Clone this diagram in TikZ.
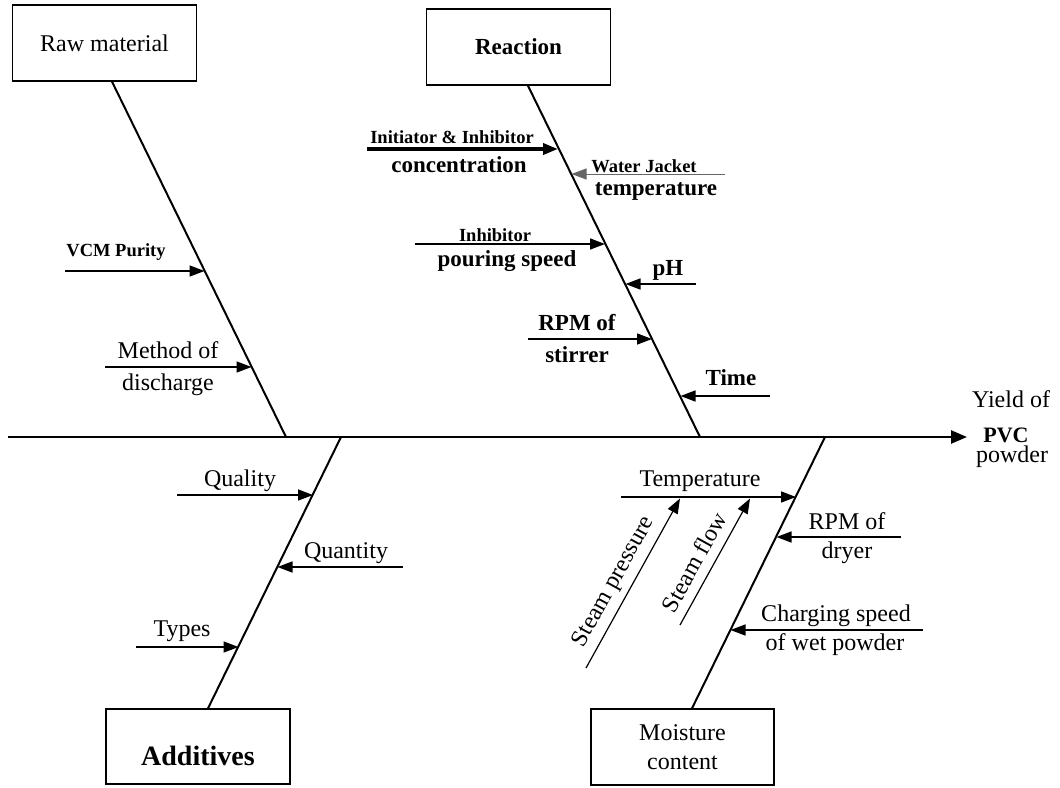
\documentclass[tikz,border=0pt]{standalone}
\usepackage{fontspec}
\setmainfont{Liberation Serif}
\usetikzlibrary{arrows.meta,calc}
\begin{document}
\begin{tikzpicture}[x=1pt,y=-1pt,
  lbl/.style={anchor=base, inner sep=0pt, font=\fontsize{24}{28}\selectfont},
  blbl/.style={anchor=base, inner sep=0pt, font=\bfseries\fontsize{23}{27}\selectfont},
  slbl/.style={anchor=base, inner sep=0pt, font=\bfseries\fontsize{18.5}{22}\selectfont},
  catbox/.style={draw, line width=1.3pt, minimum width=184pt, minimum height=76pt, inner sep=0pt, align=center},
  spine/.style={line width=2pt},
  cause/.style={line width=1.5pt, -{Triangle[length=15pt,width=11pt]}},
  thickcause/.style={line width=3.5pt, -{Triangle[length=15pt,width=11pt]}},
  faintcause/.style={line width=1pt, draw=black!60, -{Triangle[length=15pt,width=11pt]}},
  mainline/.style={line width=2.5pt, -{Triangle[length=16pt,width=13pt]}},
]
\useasboundingbox (0,0) rectangle (1060,787);

% category boxes
\node[catbox, font=\fontsize{24}{28}\selectfont] (rm) at (104.5,43) {Raw material};
\node[catbox, font=\bfseries\fontsize{23}{27}\selectfont, line width=1.6pt] (re) at (518.5,47) {Reaction};
\node[catbox, font=\bfseries\fontsize{28}{32}\selectfont, text height=37pt, text depth=0pt, minimum height=75pt] (ad) at (198,746.5) {Additives};
\node[catbox, font=\fontsize{24}{29}\selectfont, minimum width=183pt] (mc) at (682.5,747) {Moisture\\content};

% main line
\coordinate (tail) at (8,437);
\coordinate (head) at (967,437);
\coordinate (j1) at (286,437);
\coordinate (j2) at (700,437);
\coordinate (j3) at (341,437);
\coordinate (j4) at (825,437);
\draw[mainline] (tail) -- (head);
\node[lbl] (y1) at (1011,407) {Yield of};
\node[lbl, font=\bfseries\fontsize{22}{26}\selectfont] (y2) at (1006,442) {PVC};
\node[lbl] (y3) at (1012,462) {powder};

% spines
\draw[spine] ($(rm.south)+(7.5,0)$) -- (j1);
\draw[spine] ($(re.south)+(9.5,0)$) -- (j2);
\draw[spine] ($(ad.north)+(10,0)$) -- (j3);
\draw[spine] ($(mc.north)+(9.5,0)$) -- (j4);

% Raw material causes
\coordinate (vcm0) at (65,271);   \coordinate (vcm1) at (204.5,271);
\coordinate (md0) at (105,367);   \coordinate (md1) at (251.5,367);
\draw[cause] (vcm0) -- (vcm1);
\draw[cause] (md0) -- (md1);
\node[slbl] (tvcm) at (116,256) {VCM Purity};
\node[lbl] (tmd1) at (168,358) {Method of};
\node[lbl] (tmd2) at (168,390) {discharge};

% Reaction causes
\coordinate (ii0) at (367,149);  \coordinate (ii1) at (558,149);
\coordinate (wj0) at (725,174);  \coordinate (wj1) at (571.5,174);
\coordinate (ip0) at (415,244);  \coordinate (ip1) at (605,244);
\coordinate (ph0) at (696,284);  \coordinate (ph1) at (625.5,284);
\coordinate (rs0) at (528,339);  \coordinate (rs1) at (652,339);
\coordinate (ti0) at (770,396);  \coordinate (ti1) at (680.5,396);
\draw[thickcause] (ii0) -- (ii1);
\draw[faintcause] (wj0) -- (wj1);
\draw[cause] (ip0) -- (ip1);
\draw[cause] (ph0) -- (ph1);
\draw[cause] (rs0) -- (rs1);
\draw[cause] (ti0) -- (ti1);
\node[slbl] (tii1) at (452,143) {Initiator \& Inhibitor};
\node[blbl] (tii2) at (459,172) {concentration};
\node[slbl] (twj1) at (644,172) {Water Jacket};
\node[blbl] (twj2) at (656,195) {temperature};
\node[slbl] (tip1) at (495,241) {Inhibitor};
\node[blbl] (tip2) at (507,266) {pouring speed};
\node[blbl] (tph) at (668,275) {pH};
\node[blbl] (trs1) at (577,330) {RPM of};
\node[blbl] (trs2) at (577,362) {stirrer};
\node[blbl] (tti) at (731,385) {Time};

% Additives causes
\coordinate (ql0) at (177,495);  \coordinate (ql1) at (313,495);
\coordinate (qn0) at (403,567);  \coordinate (qn1) at (277.5,567);
\coordinate (ty0) at (136,647);  \coordinate (ty1) at (238.5,647);
\draw[cause] (ql0) -- (ql1);
\draw[cause] (qn0) -- (qn1);
\draw[cause] (ty0) -- (ty1);
\node[lbl] (tql) at (240,486) {Quality};
\node[lbl] (tqn) at (346,558) {Quantity};
\node[lbl] (tty) at (182,636) {Types};

% Moisture content causes
\coordinate (te0) at (621,497);  \coordinate (te1) at (796,497);
\coordinate (rd0) at (901,537);  \coordinate (rd1) at (776.5,537);
\coordinate (cs0) at (923,630);  \coordinate (cs1) at (730.5,630);
\coordinate (sp0) at (586,668);  \coordinate (sp1) at (680,498.5);
\coordinate (sf0) at (680,625);  \coordinate (sf1) at (750,498.5);
\draw[cause] (te0) -- (te1);
\draw[cause] (rd0) -- (rd1);
\draw[cause] (cs0) -- (cs1);
\draw[cause, line width=1.2pt] (sp0) -- (sp1);
\draw[cause, line width=1.2pt] (sf0) -- (sf1);
\node[lbl] (tte) at (700,486) {Temperature};
\node[lbl] (trd1) at (847,529) {RPM of};
\node[lbl] (trd2) at (847,558) {dryer};
\node[lbl] (tcs1) at (836,621) {Charging speed};
\node[lbl] (tcs2) at (835,650) {of wet powder};
\node[lbl, anchor=center, rotate=61] (tsp) at (614,582) {Steam pressure};
\node[lbl, anchor=center, rotate=61] (tsf) at (694,562) {Steam flow};
\end{tikzpicture}
\end{document}
